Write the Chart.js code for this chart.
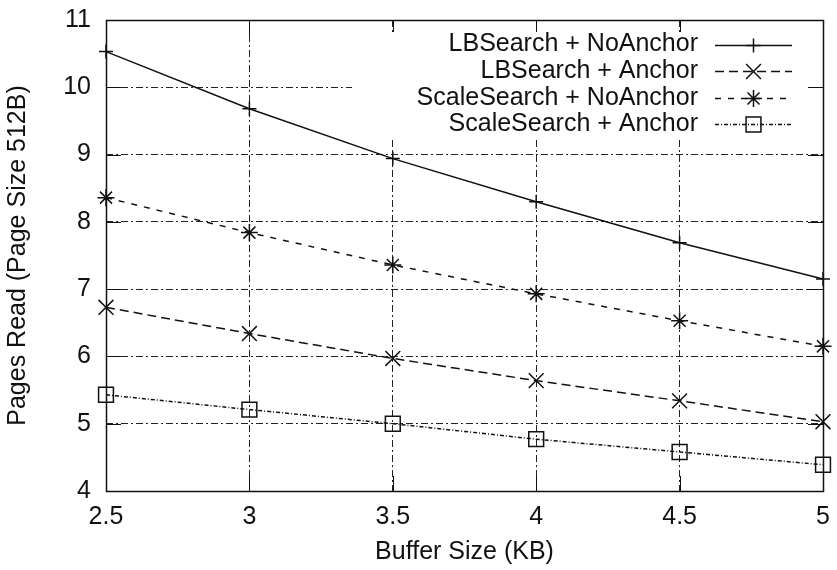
<!DOCTYPE html>
<html>
<head>
<meta charset="utf-8">
<script src="https://cdn.jsdelivr.net/npm/chart.js@4/dist/chart.umd.min.js"></script>
<style>
  html, body { margin: 0; padding: 0; background: #fff; }
  #wrap { width: 837px; height: 570px; }
</style>
</head>
<body>
<div id="wrap"><canvas id="c" width="837" height="570"></canvas></div>
<script>
// ---- data ----
const bufferSizes = [2.5, 3, 3.5, 4, 4.5, 5];
const lbSearchNoAnchor = [10.53, 9.68, 8.94, 8.30, 7.69, 7.15];
const lbSearchAnchor = [6.73, 6.34, 5.97, 5.64, 5.34, 5.03];
const scaleSearchNoAnchor = [8.36, 7.84, 7.36, 6.93, 6.53, 6.15];
const scaleSearchAnchor = [5.43, 5.21, 5.00, 4.77, 4.58, 4.39];
const seriesLabels = ['LBSearch + NoAnchor', 'LBSearch + Anchor', 'ScaleSearch + NoAnchor', 'ScaleSearch + Anchor'];
const xAxisTitle = 'Buffer Size (KB)';
const yAxisTitle = 'Pages Read (Page Size 512B)';

const FONT = "'Liberation Sans', Arial, sans-serif";
const INK = '#111';

function pts(vals) { return bufferSizes.map((x, i) => ({ x: x, y: vals[i] })); }

function ds(label, vals, style, radius, dash) {
  return {
    label: label,
    data: pts(vals),
    borderColor: INK,
    backgroundColor: 'rgba(0,0,0,0)',
    borderWidth: 1.5,
    borderDash: dash,
    pointStyle: style,
    pointRadius: radius,
    pointHoverRadius: radius,
    pointBorderColor: INK,
    pointBackgroundColor: 'rgba(0,0,0,0)',
    pointBorderWidth: 1.5,
    tension: 0,
    fill: false,
    clip: false
  };
}

const datasets = [
  ds(seriesLabels[0], lbSearchNoAnchor, 'cross', 7, []),
  ds(seriesLabels[1], lbSearchAnchor, 'crossRot', 10.5, [9, 5]),
  ds(seriesLabels[2], scaleSearchNoAnchor, 'star', 8.5, [6, 7]),
  ds(seriesLabels[3], scaleSearchAnchor, 'rect', 10.5, [4, 2, 1, 2])
];

const TICK_LEN = 15;
const KEY_BOX = { x1: 352, y1: 32, x2: 808, y2: 137 };
const KEY = { textRight: 698, lineX1: 715, lineX2: 792, rowY0: 44.5, rowStep: 26.6 };

function noScalePadding(scale) {
  scale.paddingLeft = 0; scale.paddingRight = 0;
  scale.paddingTop = 0; scale.paddingBottom = 0;
}

const framePlugin = {
  id: 'frame',
  beforeDatasetsDraw(chart) {
    const { ctx, chartArea: a, scales } = chart;
    ctx.save();
    ctx.strokeStyle = INK;
    ctx.lineWidth = 1;
    ctx.setLineDash([]);
    ctx.beginPath();
    scales.x.ticks.forEach(t => {
      const px = Math.round(scales.x.getPixelForValue(t.value)) + 0.5;
      ctx.moveTo(px, a.bottom); ctx.lineTo(px, a.bottom - TICK_LEN);
      ctx.moveTo(px, a.top); ctx.lineTo(px, a.top + TICK_LEN);
    });
    scales.y.ticks.forEach(t => {
      const py = Math.round(scales.y.getPixelForValue(t.value)) + 0.5;
      ctx.moveTo(a.left, py); ctx.lineTo(a.left + TICK_LEN, py);
      ctx.moveTo(a.right, py); ctx.lineTo(a.right - TICK_LEN, py);
    });
    ctx.stroke();
    ctx.fillStyle = '#fff';
    ctx.fillRect(KEY_BOX.x1, KEY_BOX.y1, KEY_BOX.x2 - KEY_BOX.x1, KEY_BOX.y2 - KEY_BOX.y1);
    ctx.restore();
  },
  afterDatasetsDraw(chart) {
    const { ctx, chartArea: a } = chart;
    ctx.save();
    ctx.font = '25px ' + FONT;
    ctx.textAlign = 'right';
    ctx.textBaseline = 'middle';
    chart.data.datasets.forEach((d, i) => {
      const y = KEY.rowY0 + i * KEY.rowStep;
      ctx.fillStyle = INK;
      ctx.fillText(d.label, KEY.textRight, y);
      ctx.strokeStyle = INK;
      ctx.lineWidth = d.borderWidth;
      ctx.setLineDash(d.borderDash || []);
      ctx.beginPath();
      ctx.moveTo(KEY.lineX1, Math.round(y) + 0.5);
      ctx.lineTo(KEY.lineX2, Math.round(y) + 0.5);
      ctx.stroke();
      ctx.setLineDash([]);
      ctx.lineWidth = d.pointBorderWidth;
      ctx.fillStyle = 'rgba(0,0,0,0)';
      Chart.helpers.drawPoint(ctx, { pointStyle: d.pointStyle, radius: d.pointRadius, rotation: 0, borderWidth: d.pointBorderWidth }, (KEY.lineX1 + KEY.lineX2) / 2, Math.round(y) + 0.5);
    });
    ctx.setLineDash([]);
    ctx.strokeStyle = INK;
    ctx.lineWidth = 1.5;
    ctx.strokeRect(a.left + 0.5, a.top + 0.5, a.right - a.left, a.bottom - a.top);
    ctx.restore();
  }
};

const fmt = v => String(Math.round(v * 10) / 10);

new Chart(document.getElementById('c'), {
  type: 'line',
  data: { datasets: datasets },
  options: {
    responsive: false,
    devicePixelRatio: 1,
    animation: false,
    events: [],
    layout: { padding: { top: 20, right: 14, left: 0, bottom: 0 } },
    plugins: { legend: { display: false }, tooltip: { enabled: false } },
    scales: {
      x: {
        type: 'linear',
        min: 2.5, max: 5,
        afterFit(scale) { scale.height = 79; noScalePadding(scale); },
        ticks: { stepSize: 0.5, color: INK, font: { family: FONT, size: 25 }, padding: 11, maxRotation: 0, callback: fmt },
        grid: { color: '#222', lineWidth: 1, drawTicks: false },
        border: { display: false, dash: [7, 3, 2, 3] },
        title: { display: true, text: xAxisTitle, color: INK, font: { family: FONT, size: 25 }, padding: { top: 0, bottom: 3 } }
      },
      y: {
        type: 'linear',
        min: 4, max: 11,
        afterFit(scale) { scale.width = 106; noScalePadding(scale); },
        ticks: { stepSize: 1, color: INK, font: { family: FONT, size: 25 }, padding: 15, callback: fmt },
        grid: { color: '#222', lineWidth: 1, drawTicks: false },
        border: { display: false, dash: [7, 3, 2, 3] },
        title: { display: true, text: yAxisTitle, color: INK, font: { family: FONT, size: 25 }, padding: { top: 3, bottom: 0 } }
      }
    }
  },
  plugins: [framePlugin]
});
</script>
</body>
</html>
